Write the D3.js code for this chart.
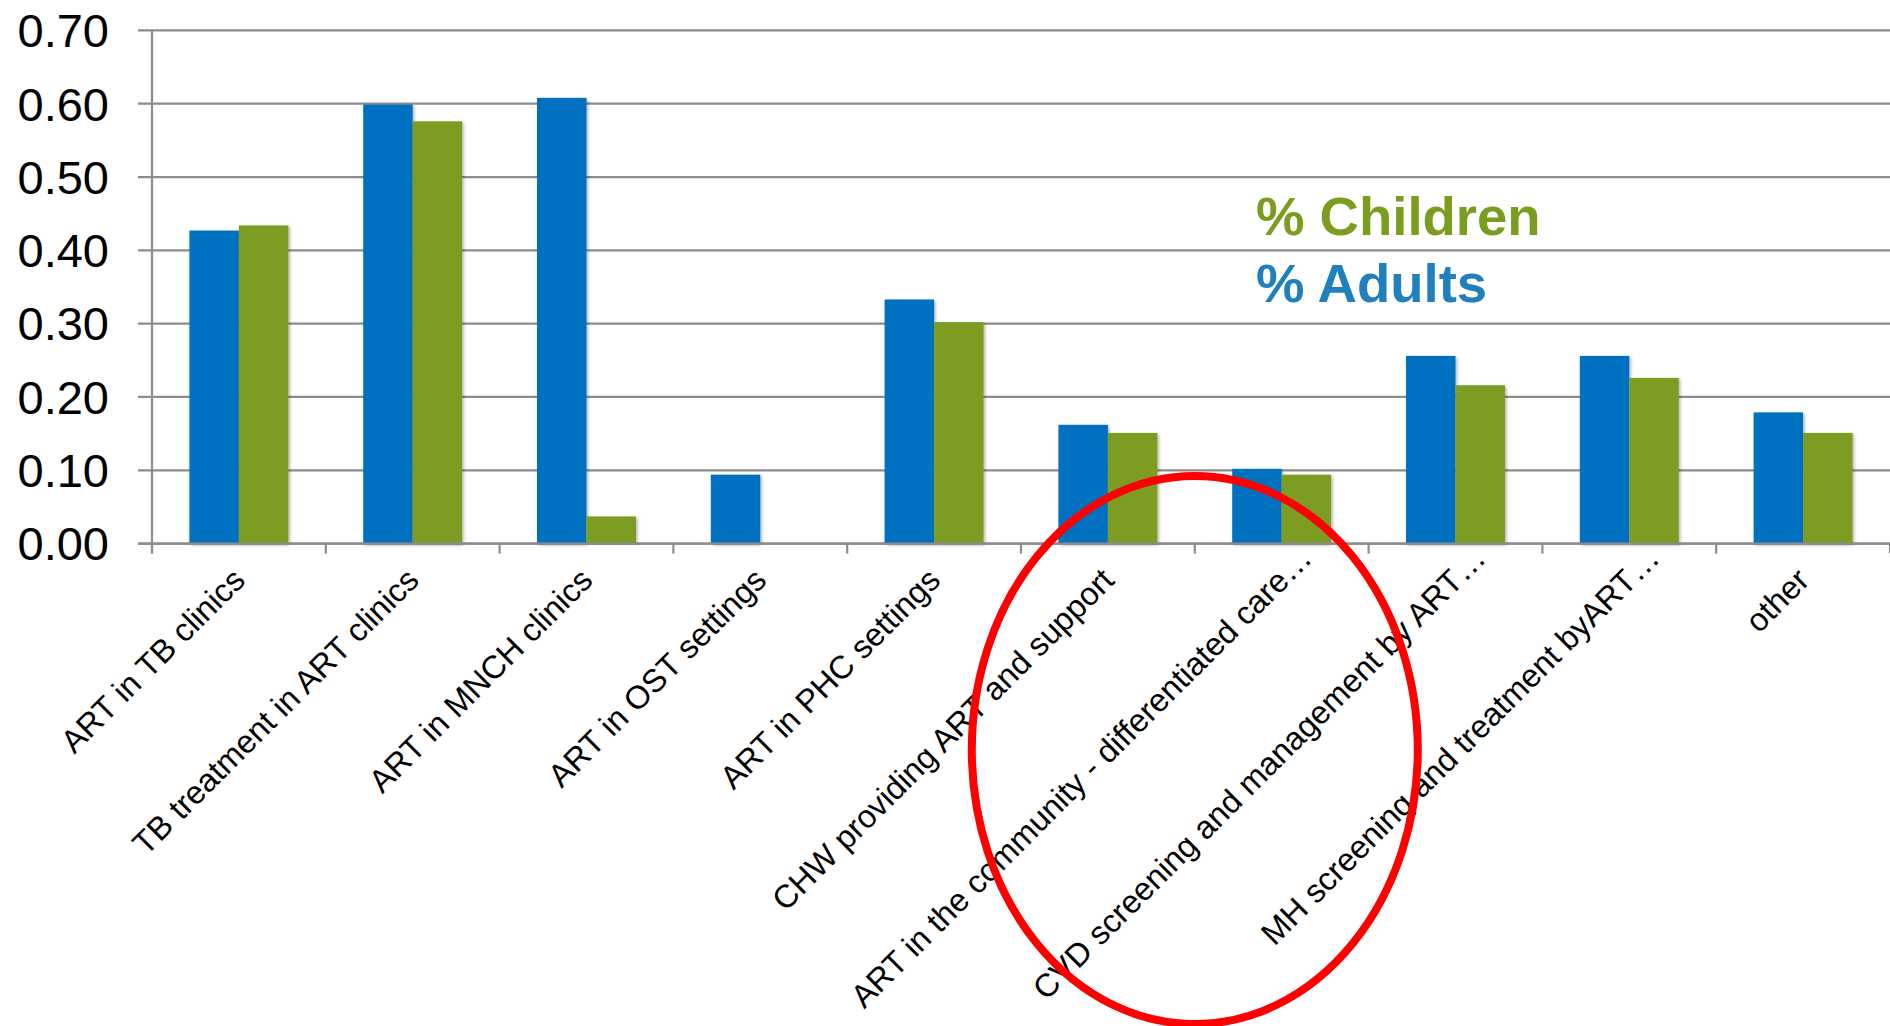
<!DOCTYPE html>
<html>
<head>
<meta charset="utf-8">
<script src="https://cdn.jsdelivr.net/npm/d3@7"></script>
<style>
  html, body { margin: 0; padding: 0; background: #ffffff; }
  svg { display: block; font-family: "Liberation Sans", Arial, sans-serif; }
</style>
</head>
<body>
<div id="chart"></div>
<script>
// data
var categories = [
  "ART in TB clinics",
  "TB treatment in ART clinics",
  "ART in MNCH clinics",
  "ART in OST settings",
  "ART in PHC settings",
  "CHW providing ART and support",
  "ART in the community - differentiated care\u2026",
  "CVD screening and management by ART\u2026",
  "MH screening and treatment byART\u2026",
  "other"
];
var adults   = [0.427, 0.599, 0.608, 0.094, 0.333, 0.162, 0.102, 0.256, 0.256, 0.179];
var children = [0.434, 0.576, 0.037, 0.000, 0.302, 0.151, 0.094, 0.216, 0.226, 0.151];
var seriesNames = ["% Adults", "% Children"];
var yTicks = [0, 0.1, 0.2, 0.3, 0.4, 0.5, 0.6, 0.7];

var colors = { "% Adults": "#0070C0", "% Children": "#7C9D21" };
var legendColors = { "% Adults": "#1F80BD", "% Children": "#7A9D20" };

var W = 1890, H = 1026;
var plot = { left: 152, right: 1890, top: 30.4, bottom: 543.6 };
var gridColor = "#8c8c8c";

var svg = d3.select("#chart").append("svg")
  .attr("width", W)
  .attr("height", H);

// soft shadow like the office chart bars
var defs = svg.append("defs");
defs.append("filter")
  .attr("id", "barShadow")
  .attr("x", "-20%").attr("y", "-5%")
  .attr("width", "140%").attr("height", "110%")
  .append("feDropShadow")
  .attr("dx", 1.5).attr("dy", 1.5)
  .attr("stdDeviation", 1.8)
  .attr("flood-color", "#000")
  .attr("flood-opacity", 0.3);

var y = d3.scaleLinear()
  .domain([0, 0.7])
  .range([plot.bottom, plot.top]);

var x0 = d3.scaleBand()
  .domain(categories)
  .range([plot.left, plot.right])
  .padding(0);

var x1 = d3.scaleBand()
  .domain(seriesNames)
  .range([0, x0.bandwidth()])
  .paddingInner(0)
  .paddingOuter(0.756);

// gridlines + y tick labels
var grid = svg.append("g").attr("class", "grid");
grid.selectAll("line")
  .data(yTicks)
  .enter().append("line")
  .attr("x1", plot.left - 14)
  .attr("x2", plot.right)
  .attr("y1", function(d) { return y(d); })
  .attr("y2", function(d) { return y(d); })
  .style("stroke", gridColor)
  .attr("stroke-width", 2.2);

grid.selectAll("text")
  .data(yTicks)
  .enter().append("text")
  .attr("x", 109)
  .attr("y", function(d) { return y(d) + 16.8; })
  .attr("text-anchor", "end")
  .style("font-size", "47px")
  .style("fill", "#000")
  .text(function(d) { return d3.format(".2f")(d); });

// bars
var rows = categories.map(function(c, i) {
  return { cat: c, values: [
    { key: "% Adults", value: adults[i] },
    { key: "% Children", value: children[i] }
  ]};
});

var groups = svg.append("g").attr("class", "bars")
  .selectAll("g")
  .data(rows)
  .enter().append("g")
  .attr("transform", function(d) { return "translate(" + x0(d.cat) + ",0)"; });

groups.selectAll("rect")
  .data(function(d) { return d.values.filter(function(v) { return v.value > 0; }); })
  .enter().append("rect")
  .attr("x", function(d) { return x1(d.key); })
  .attr("width", x1.bandwidth())
  .attr("y", function(d) { return y(d.value); })
  .attr("height", function(d) { return y(0) - y(d.value); })
  .attr("filter", "url(#barShadow)")
  .style("fill", function(d) { return colors[d.key]; });

// axes lines
var axis = svg.append("g").attr("class", "axis");
axis.append("line")
  .attr("x1", plot.left).attr("x2", plot.left)
  .attr("y1", plot.top).attr("y2", plot.bottom + 10)
  .style("stroke", gridColor)
  .attr("stroke-width", 2.2);
axis.append("line")
  .attr("x1", plot.left - 14).attr("x2", plot.right)
  .attr("y1", y(0)).attr("y2", y(0))
  .style("stroke", gridColor)
  .attr("stroke-width", 2.2);

var tickPos = categories.map(function(c) { return x0(c); }).concat([x0.range()[1]]);
axis.selectAll(".xtick")
  .data(tickPos)
  .enter().append("line")
  .attr("class", "xtick")
  .attr("x1", function(d) { return d; })
  .attr("x2", function(d) { return d; })
  .attr("y1", y(0))
  .attr("y2", y(0) + 10)
  .style("stroke", gridColor)
  .attr("stroke-width", 2.2);

// rotated category labels (the truncated ones sit a bit further out)
axis.selectAll(".xlabel")
  .data(categories)
  .enter().append("text")
  .attr("class", "xlabel")
  .attr("text-anchor", "end")
  .style("font-size", "32.3px")
  .style("fill", "#000")
  .attr("transform", function(d) {
    var cut = d.indexOf("\u2026") >= 0;
    var cx = x0(d) + x0.bandwidth() / 2 + 8 + (cut ? 24 : 0);
    var cy = y(0) + 38.5 - (cut ? 22 : 0);
    return "translate(" + cx + "," + cy + ") rotate(-45)";
  })
  .text(function(d) { return d; });

// legend as text, the way the slide has it
var legend = svg.append("g").attr("class", "legend");
legend.selectAll("text")
  .data(["% Children", "% Adults"])
  .enter().append("text")
  .attr("x", 1256)
  .attr("y", function(d, i) { return 235 + i * 66.7; })
  .style("font-size", "54.5px")
  .style("font-weight", "bold")
  .style("fill", function(d) { return legendColors[d]; })
  .text(function(d) { return d; });

// red ellipse annotation, centred on the tick before "ART in the community"
svg.append("ellipse")
  .attr("cx", x0(categories[6]))
  .attr("cy", 750)
  .attr("rx", 223)
  .attr("ry", 274)
  .style("fill", "none")
  .style("stroke", "#FF0000")
  .attr("stroke-width", 8);
</script>
</body>
</html>
